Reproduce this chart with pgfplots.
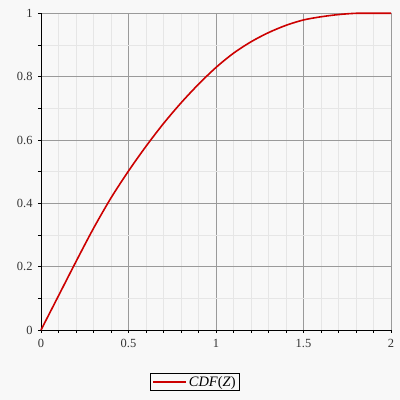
\documentclass[border=0pt]{standalone}
\usepackage{fontspec}
\setmainfont{Liberation Serif}
\usepackage{pgfplots}
\pgfplotsset{compat=1.18}
\definecolor{bg}{HTML}{F8F8F8}
\definecolor{curve}{HTML}{CC0000}
\definecolor{majgrid}{HTML}{9A9A9A}
\definecolor{mingrid}{HTML}{E6E6E6}
\begin{document}
\begin{tikzpicture}[x=1bp,y=1bp]
\fill[bg] (0,0) rectangle (400,400);
\begin{axis}[
  at={(41bp,70bp)}, anchor=south west,
  scale only axis, width=350bp, height=316.7bp,
  xmin=0, xmax=2, ymin=0, ymax=1,
  axis background/.style={fill=bg},
  xtick={0,0.5,1,1.5,2}, xticklabels={0,0.5,1,1.5,2},
  ytick={0,0.2,0.4,0.6,0.8,1}, yticklabels={0,0.2,0.4,0.6,0.8,1},
  minor xtick={0.1,0.2,0.3,0.4,0.6,0.7,0.8,0.9,1.1,1.2,1.3,1.4,1.6,1.7,1.8,1.9},
  minor ytick={0.1,0.3,0.5,0.7,0.9},
  grid=both,
  major grid style={majgrid, line width=0.9bp},
  minor grid style={mingrid, line width=0.9bp},
  axis x line*=bottom, axis y line*=left,
  axis line style={black, line width=0.8bp, -},
  tick align=outside, tick style={black, line width=0.6bp},
  major tick length=3bp, minor tick length=3bp,
  ticklabel style={font=\fontsize{12.5}{14}\selectfont, text=black!80},
  xticklabel style={yshift=-3bp},
  yticklabel style={xshift=-2bp},
  clip=false,
  legend style={at={(0.440,-0.164)}, anchor=center, draw=black, line width=0.8bp, fill=bg,
    font=\fontsize{14.5}{16}\selectfont, inner xsep=1.5bp, inner ysep=1bp,
    nodes={inner xsep=2bp}},
  legend image code/.code={\draw[#1, line width=1.6bp] (0bp,0bp) -- (33bp,0bp);},
  legend cell align=left,
]
\addplot[curve, line width=1.6bp, smooth, tension=0.5] table {
x y
0 0
0.1 0.108
0.2 0.216
0.3 0.321
0.4 0.417
0.5 0.502
0.6 0.580
0.7 0.652
0.8 0.717
0.9 0.776
1.0 0.829
1.1 0.874
1.2 0.910
1.3 0.939
1.4 0.962
1.5 0.979
1.6 0.989
1.7 0.996
1.8 1
1.9 1
2.0 1
};
\addlegendentry{\textit{CDF}(\textit{Z})}
\end{axis}
\end{tikzpicture}
\end{document}
